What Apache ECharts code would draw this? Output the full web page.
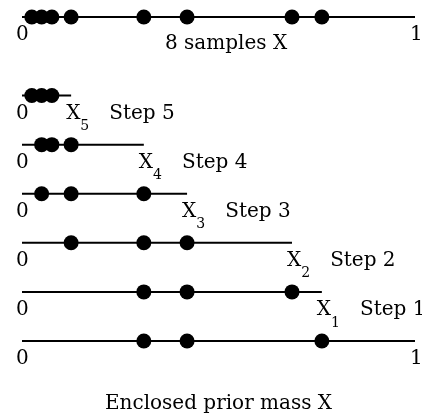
<!DOCTYPE html>
<html>
<head>
<meta charset="utf-8">
<script src="https://cdn.jsdelivr.net/npm/echarts@6/dist/echarts.min.js"></script>
<style>
  html, body { margin: 0; padding: 0; background: #fff; }
  #chart { width: 422px; height: 419px; }
</style>
</head>
<body>
<div id="chart"></div>
<script>
// 8 samples drawn from the prior (enclosed prior mass X)
const samples = [0.025, 0.05, 0.076, 0.125, 0.31, 0.42, 0.687, 0.763];
// step k: remaining interval [0, X_k] and live points in it
const stepNames = ['Step 1', 'Step 2', 'Step 3', 'Step 4', 'Step 5'];
const stepSubs = ['1', '2', '3', '4', '5'];
const stepLimits = [0.763, 0.687, 0.42, 0.31, 0.125];
const stepLive = [
    [0.31, 0.42, 0.687],
    [0.125, 0.31, 0.42],
    [0.05, 0.125, 0.31],
    [0.05, 0.076, 0.125],
    [0.025, 0.05, 0.076]
];
const firstLive = [0.31, 0.42, 0.763];
const endLabels = ['0', '1'];

const font = 'DejaVu Serif';
const ink = '#000';

// vertical slot of each row (bottom row = 0, steps 1..5, top row)
const topRow = 6.6;

const richText = {
    n: { fontFamily: font, fontSize: 20, lineHeight: 22, color: ink, verticalAlign: 'top' },
    x: { fontFamily: font, fontSize: 20, lineHeight: 22, color: ink, verticalAlign: 'top' },
    sub: { fontFamily: font, fontSize: 14, lineHeight: 14, color: ink, padding: [16, 0, 0, 0], verticalAlign: 'top' },
    st: { fontFamily: font, fontSize: 20, lineHeight: 22, color: ink, padding: [0, 0, 0, 20], verticalAlign: 'top' }
};

const zeroLabel = { show: true, position: [-6, 8], formatter: '{n|' + endLabels[0] + '}', rich: richText };
const oneLabel = { show: true, position: [-5, 8], formatter: '{n|' + endLabels[1] + '}', rich: richText };

const series = [];

const addRow = (y, end, pts, endLabel) => {
    series.push({
        type: 'line',
        silent: true,
        symbol: 'circle',
        symbolSize: 0,
        showSymbol: true,
        lineStyle: { color: ink, width: 2 },
        itemStyle: { color: ink },
        z: 1,
        data: [
            { value: [0, y], label: zeroLabel },
            { value: [end, y], label: endLabel }
        ]
    });
    series.push({
        type: 'scatter',
        silent: true,
        symbolSize: 15,
        itemStyle: { color: ink, opacity: 1 },
        z: 2,
        data: pts.map((v) => [v, y])
    });
};

addRow(topRow, 1, samples, oneLabel);
stepLimits.forEach((lim, i) => {
    addRow(i + 1, lim, stepLive[i], {
        show: true,
        position: [-5, 8],
        formatter: '{x|X}{sub|' + stepSubs[i] + '}{st|' + stepNames[i] + '}',
        rich: richText
    });
});
addRow(0, 1, firstLive, oneLabel);

const myChart = echarts.init(document.getElementById('chart'));
const option = {
    backgroundColor: '#fff',
    animation: false,
    title: {
        text: '8 samples X',
        left: 160,
        top: 29,
        textStyle: { fontFamily: font, fontSize: 20, fontWeight: 'normal', color: ink }
    },
    grid: { left: 22, right: 7, top: 17, bottom: 76 },
    xAxis: {
        type: 'value',
        min: 0,
        max: 1,
        name: 'Enclosed prior mass X',
        nameLocation: 'middle',
        nameGap: 53,
        nameTextStyle: { fontFamily: font, fontSize: 20, color: ink },
        axisLine: { show: false },
        axisTick: { show: false },
        axisLabel: { show: false },
        splitLine: { show: false }
    },
    yAxis: {
        type: 'value',
        min: 0,
        max: topRow,
        show: false
    },
    series: series
};
myChart.setOption(option);
</script>
</body>
</html>
